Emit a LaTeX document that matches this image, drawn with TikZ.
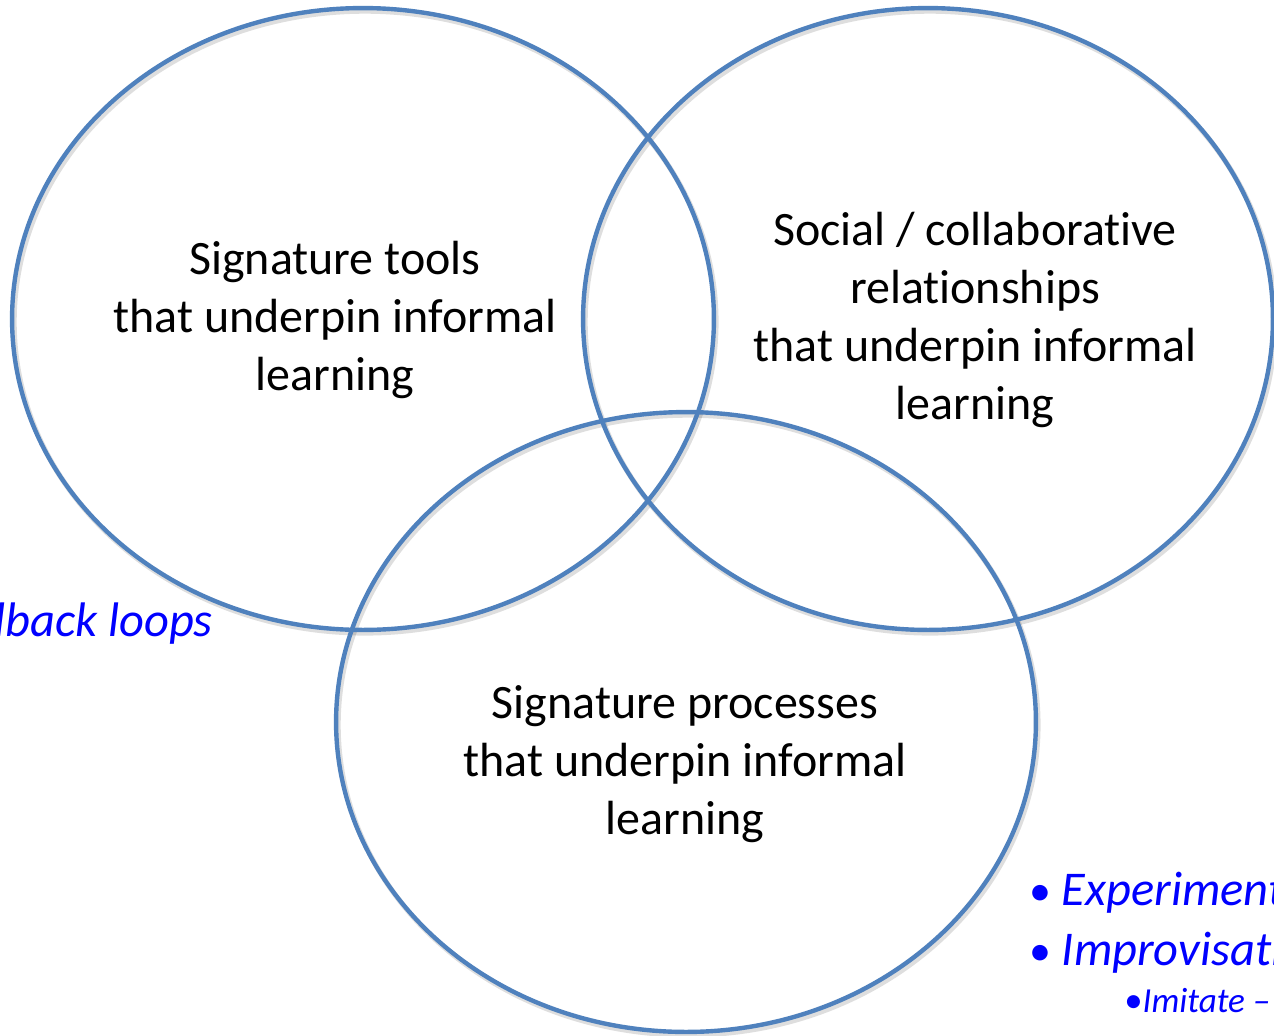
\documentclass[tikz,border=0pt]{standalone}
\usepackage{fontspec}
\setmainfont{Carlito}[Ligatures=NoCommon]
\definecolor{ringblue}{HTML}{4F81BD}
\definecolor{noteblue}{HTML}{0000FF}
\newcommand{\notebullet}{{\fontsize{25}{28}\selectfont\upshape •}}
\newcommand{\subbullet}{{\fontsize{21}{25}\selectfont\upshape •}}
\begin{document}
\begin{tikzpicture}[x=0.02cm,y=-0.02cm,
  ring/.style={draw=ringblue, line width=2.5pt},
  ringshadow/.style={draw=black, opacity=0.13, line width=3pt},
  label/.style={font=\fontsize{27.3}{33}\selectfont, align=center, text=black, inner sep=0pt},
  note/.style={font=\fontsize{27.6}{33}\selectfont\itshape, text=noteblue, inner sep=0pt},
  subnote/.style={font=\fontsize{20}{24}\selectfont\itshape, text=noteblue, inner sep=0pt}]
\clip (0,0) rectangle (1274,1035);
\fill[white] (0,0) rectangle (1274,1035);

% soft shadows under the three rings
\draw[ringshadow] (365,322) ellipse [x radius=7.02cm, y radius=6.22cm];
\draw[ringshadow] (930,322) ellipse [x radius=6.90cm, y radius=6.22cm];
\draw[ringshadow] (688,725) ellipse [x radius=7.00cm, y radius=6.20cm];

% the three rings
\draw[ring] (363,319) ellipse [x radius=7.02cm, y radius=6.22cm];
\draw[ring] (928,319) ellipse [x radius=6.90cm, y radius=6.22cm];
\draw[ring] (686,722) ellipse [x radius=7.00cm, y radius=6.20cm];

% ring labels
\node[label] (tools) at (335,320) {Signature tools\\that underpin informal\\learning};
\node[label] (social) at (975,320) {Social / collaborative\\relationships\\that underpin informal\\learning};
\node[label] (proc) at (685,764) {Signature processes\\that underpin informal\\learning};

% side notes
\node[note, anchor=base east] (fb) at (213,636) {Feedback loops};
\node[note, anchor=base west] (exp) at (1029,905) {\notebullet\hspace{6pt}Experiment};
\node[note, anchor=base west] (imp) at (1029,965) {\notebullet\hspace{6pt}Improvisation};
\node[subnote, anchor=base west] (imi) at (1124,1012) {\subbullet Imitate –};
\end{tikzpicture}
\end{document}
